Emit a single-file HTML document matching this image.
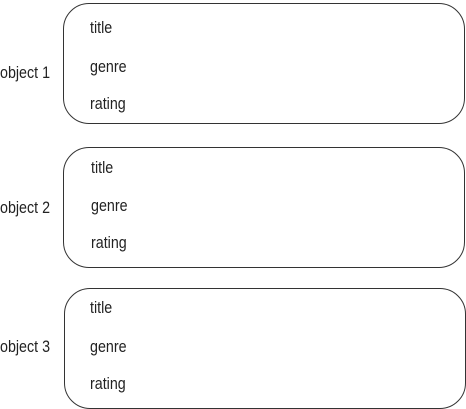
<!DOCTYPE html>
<html><head><style>
body{margin:0;width:466px;height:409px;background:#fff;position:relative;overflow:hidden;font-family:"Liberation Sans",sans-serif;color:#222}
.b{position:absolute;border:1px solid #333;border-radius:26px;box-sizing:border-box;width:402px;height:121px}
.t{position:absolute;font-size:17px;line-height:18px;transform:scaleX(0.84);transform-origin:0 50%;white-space:nowrap}
</style></head><body>
<div class="b" style="left:63px;top:3px"></div>
<div class="b" style="left:63px;top:147px"></div>
<div class="b" style="left:64px;top:288px"></div>
<div class="t" style="left:0;top:64px">object 1</div>
<div class="t" style="left:0;top:199px">object 2</div>
<div class="t" style="left:0;top:338px">object 3</div>
<div class="t" style="left:90px;top:19px">title</div>
<div class="t" style="left:90px;top:58px">genre</div>
<div class="t" style="left:90px;top:95px">rating</div>
<div class="t" style="left:91px;top:159px">title</div>
<div class="t" style="left:91px;top:197px">genre</div>
<div class="t" style="left:91px;top:234px">rating</div>
<div class="t" style="left:90px;top:299px">title</div>
<div class="t" style="left:90px;top:338px">genre</div>
<div class="t" style="left:90px;top:375px">rating</div>
</body></html>
